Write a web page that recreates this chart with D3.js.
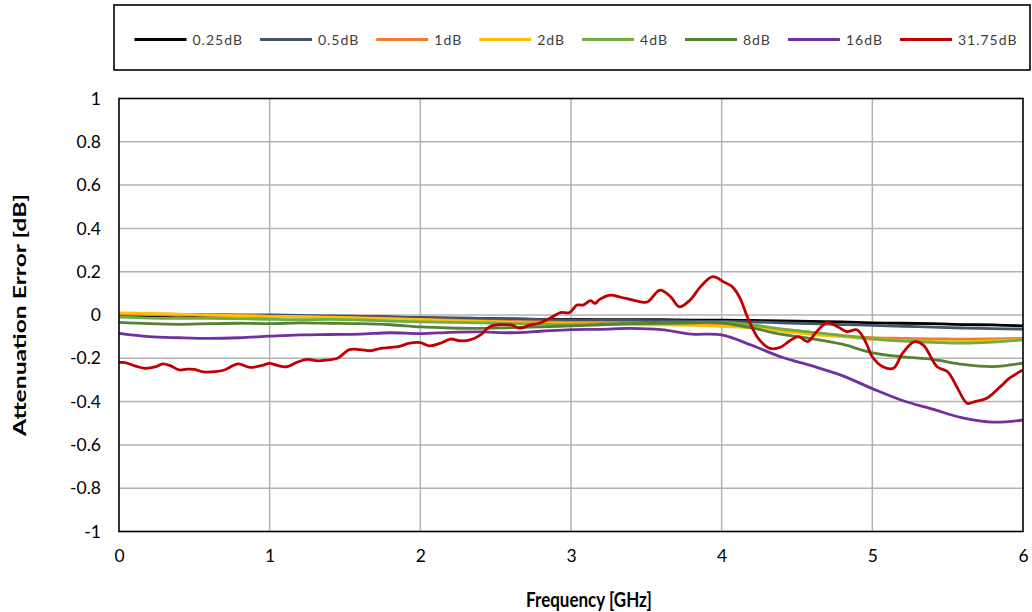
<!DOCTYPE html>
<html>
<head>
<meta charset="utf-8">
<script src="https://cdn.jsdelivr.net/npm/d3@7"></script>
<style>
  body { margin: 0; background: #fff; }
  svg { display: block; font-family: Lato, "Open Sans", sans-serif; }
</style>
</head>
<body>
<div id="chart"></div>
<script>
// series names and colours, in legend order
var seriesNames = ["0.25dB", "0.5dB", "1dB", "2dB", "4dB", "8dB", "16dB", "31.75dB"];
var seriesColors = ["#000000", "#44546a", "#ed7d31", "#ffc000", "#70ad47", "#548235", "#7030a0", "#c00000"];

// frequency grid (GHz) shared by the smooth series
var freqGrid = [0, 0.2, 0.4, 0.6, 0.8, 1.0, 1.2, 1.4, 1.6, 1.8, 2.0, 2.2, 2.4, 2.6, 2.8, 3.0,
  3.2, 3.4, 3.6, 3.8, 4.0, 4.2, 4.4, 4.6, 4.8, 5.0, 5.2, 5.4, 5.6, 5.8, 6.0];

var err025 = [0.0, -0.003, -0.002, -0.004, -0.003, -0.005, -0.006, -0.008, -0.008, -0.01, -0.012,
  -0.014, -0.016, -0.018, -0.02, -0.02, -0.021, -0.022, -0.022, -0.024, -0.024, -0.025, -0.027,
  -0.03, -0.032, -0.036, -0.038, -0.04, -0.044, -0.046, -0.05];
var err05 = [0.005, 0.004, 0.003, 0.002, 0.001, 0.0, -0.002, -0.004, -0.006, -0.009, -0.012,
  -0.015, -0.016, -0.018, -0.021, -0.023, -0.024, -0.025, -0.026, -0.028, -0.03, -0.032, -0.036,
  -0.04, -0.044, -0.048, -0.052, -0.056, -0.06, -0.063, -0.065];
var err1 = [0.004, 0.002, 0.0, -0.002, -0.004, -0.006, -0.008, -0.01, -0.013, -0.016, -0.02,
  -0.024, -0.027, -0.03, -0.032, -0.034, -0.036, -0.036, -0.038, -0.04, -0.042, -0.05, -0.065,
  -0.08, -0.095, -0.105, -0.108, -0.11, -0.112, -0.11, -0.108];
var err2 = [0.01, 0.007, 0.004, 0.0, -0.003, -0.006, -0.008, -0.011, -0.014, -0.018, -0.022,
  -0.026, -0.03, -0.034, -0.038, -0.04, -0.042, -0.044, -0.046, -0.048, -0.052, -0.06, -0.075,
  -0.09, -0.1, -0.112, -0.118, -0.122, -0.124, -0.12, -0.113];
var err4 = [-0.01, -0.014, -0.016, -0.015, -0.017, -0.02, -0.022, -0.02, -0.023, -0.028, -0.032,
  -0.034, -0.036, -0.04, -0.042, -0.045, -0.042, -0.04, -0.038, -0.036, -0.034, -0.045, -0.065,
  -0.08, -0.095, -0.11, -0.12, -0.126, -0.13, -0.125, -0.115];
var err8 = [-0.034, -0.04, -0.043, -0.04, -0.038, -0.04, -0.036, -0.038, -0.04, -0.045, -0.055,
  -0.06, -0.062, -0.058, -0.055, -0.05, -0.045, -0.04, -0.038, -0.036, -0.036, -0.06, -0.09,
  -0.11, -0.135, -0.175, -0.193, -0.205, -0.228, -0.238, -0.222];
var err16 = [-0.085, -0.1, -0.105, -0.108, -0.105, -0.098, -0.092, -0.09, -0.088, -0.082, -0.086,
  -0.08, -0.078, -0.082, -0.075, -0.068, -0.066, -0.062, -0.068, -0.088, -0.092, -0.14, -0.195,
  -0.235, -0.28, -0.34, -0.395, -0.435, -0.475, -0.495, -0.485];

// 31.75dB is much wigglier, so it has its own frequency points
var freq3175 = [0, 0.04, 0.11, 0.17, 0.24, 0.29, 0.34, 0.40, 0.45, 0.50, 0.56, 0.64, 0.70,
  0.79, 0.87, 0.95, 1.00, 1.05, 1.11, 1.19, 1.25, 1.32, 1.39, 1.45, 1.53, 1.60, 1.67, 1.73,
  1.80, 1.86, 1.93, 2.00, 2.06, 2.13, 2.20, 2.26, 2.33, 2.40, 2.46, 2.60, 2.66, 2.73, 2.79,
  2.86, 2.93, 2.99, 3.04, 3.08, 3.13, 3.16, 3.19, 3.26, 3.33, 3.39, 3.46, 3.51, 3.59, 3.66,
  3.72, 3.79, 3.86, 3.94, 4.01, 4.07, 4.12, 4.17, 4.21, 4.25, 4.32, 4.39, 4.45, 4.51, 4.57,
  4.63, 4.70, 4.77, 4.83, 4.90, 4.96, 5.00, 5.07, 5.14, 5.20, 5.28, 5.34, 5.43, 5.50, 5.56,
  5.63, 5.68, 5.76, 5.85, 5.91, 6.00];
var err3175 = [-0.219, -0.22, -0.236, -0.246, -0.24, -0.226, -0.234, -0.254, -0.25, -0.251,
  -0.263, -0.262, -0.254, -0.226, -0.242, -0.233, -0.223, -0.233, -0.239, -0.216, -0.205, -0.212,
  -0.207, -0.2, -0.16, -0.16, -0.165, -0.155, -0.15, -0.145, -0.13, -0.128, -0.143, -0.131,
  -0.111, -0.119, -0.115, -0.092, -0.054, -0.046, -0.061, -0.046, -0.038, -0.015, 0.011, 0.011,
  0.046, 0.046, 0.066, 0.054, 0.072, 0.092, 0.082, 0.072, 0.061, 0.061, 0.115, 0.085, 0.038,
  0.069, 0.131, 0.177, 0.154, 0.131, 0.08, -0.008, -0.069, -0.115, -0.154, -0.149, -0.12, -0.1,
  -0.123, -0.077, -0.035, -0.054, -0.077, -0.069, -0.131, -0.193, -0.239, -0.246, -0.177, -0.123,
  -0.14, -0.239, -0.262, -0.331, -0.408, -0.4, -0.385, -0.331, -0.292, -0.254];

var xTicks = [0, 1, 2, 3, 4, 5, 6];
var yTicks = [-1, -0.8, -0.6, -0.4, -0.2, 0, 0.2, 0.4, 0.6, 0.8, 1];

var seriesX = [freqGrid, freqGrid, freqGrid, freqGrid, freqGrid, freqGrid, freqGrid, freq3175];
var seriesY = [err025, err05, err1, err2, err4, err8, err16, err3175];

var W = 1032, H = 612;
var margin = {top: 98.5, right: 9, bottom: 80.5, left: 119};
var width = W - margin.left - margin.right,
    height = H - margin.top - margin.bottom;

var svg = d3.select("#chart").append("svg")
    .attr("width", W)
    .attr("height", H);

var g = svg.append("g")
    .attr("transform", "translate(" + margin.left + "," + margin.top + ")");

var x = d3.scaleLinear().domain([0, 6]).range([0, width]);
var y = d3.scaleLinear().domain([-1, 1]).range([height, 0]);

// grid lines
g.append("g").selectAll("line.h")
    .data(yTicks.filter(function (d) { return d > -1 && d < 1; }))
  .enter().append("line")
    .attr("x1", 0).attr("x2", width)
    .attr("y1", function (d) { return y(d); })
    .attr("y2", function (d) { return y(d); })
    .attr("stroke", "#b3b3b3").attr("stroke-width", 1.5);

g.append("g").selectAll("line.v")
    .data(xTicks.filter(function (d) { return d > 0 && d < 6; }))
  .enter().append("line")
    .attr("y1", 0).attr("y2", height)
    .attr("x1", function (d) { return x(d); })
    .attr("x2", function (d) { return x(d); })
    .attr("stroke", "#b3b3b3").attr("stroke-width", 1.5);

// axes (labels only, no tick marks)
var xAxis = g.append("g")
    .attr("transform", "translate(0," + height + ")")
    .call(d3.axisBottom(x).tickValues(xTicks).tickSize(0).tickPadding(18).tickFormat(d3.format("d")));
var yAxis = g.append("g")
    .call(d3.axisLeft(y).tickValues(yTicks).tickSize(0).tickPadding(18)
      .tickFormat(function (d) { return String(+d.toFixed(1)); }));

[xAxis, yAxis].forEach(function (a) {
  a.select(".domain").remove();
  a.selectAll("text")
      .attr("fill", "#000")
      .style("font-size", "17.5px")
      .style("font-family", "Lato, sans-serif");
});

// data lines
var line = d3.line()
    .x(function (d) { return x(d[0]); })
    .y(function (d) { return y(d[1]); })
    .curve(d3.curveCatmullRom.alpha(0.5));

svg.append("defs").append("clipPath").attr("id", "plotclip")
  .append("rect").attr("width", width).attr("height", height);

var lines = g.append("g").attr("clip-path", "url(#plotclip)");
seriesNames.forEach(function (name, i) {
  var pts = seriesX[i].map(function (f, j) { return [f, seriesY[i][j]]; });
  lines.append("path")
      .datum(pts)
      .attr("d", line)
      .attr("fill", "none")
      .attr("stroke", seriesColors[i])
      .attr("stroke-width", 2.8)
      .attr("stroke-linejoin", "round");
});

// plot frame
g.append("rect")
    .attr("width", width).attr("height", height)
    .attr("fill", "none")
    .attr("stroke", "#000").attr("stroke-width", 1.6);

// axis titles (the reference text looks stretched vertically)
svg.append("text")
    .attr("transform", "translate(589,607) scale(1,1.2)")
    .attr("text-anchor", "middle")
    .style("font-size", "17px").style("font-weight", "bold")
    .text("Frequency [GHz]");

svg.append("text")
    .attr("transform", "translate(26," + (margin.top + height / 2) + ") scale(1,1.45) rotate(-90)")
    .attr("text-anchor", "middle")
    .style("font-size", "17px").style("font-weight", "bold")
    .text("Attenuation Error [dB]");

// legend
var legendBox = {x: 114, y: 5, w: 916, h: 65};
svg.append("rect")
    .attr("x", legendBox.x).attr("y", legendBox.y)
    .attr("width", legendBox.w).attr("height", legendBox.h)
    .attr("fill", "none").attr("stroke", "#000").attr("stroke-width", 1.6);

var legend = svg.append("g");
var lx = 0, swatch = 52, gapA = 6, gapB = 17;
seriesNames.forEach(function (name, i) {
  var item = legend.append("g").attr("transform", "translate(" + lx + ",0)");
  item.append("line")
      .attr("x1", 0).attr("x2", swatch)
      .attr("y1", 0).attr("y2", 0)
      .attr("stroke", seriesColors[i]).attr("stroke-width", 3);
  var t = item.append("text")
      .attr("x", swatch + gapA).attr("y", 5)
      .attr("fill", "#404040")
      .style("font-size", "14px").style("letter-spacing", "1px")
      .text(name);
  lx += swatch + gapA + t.node().getComputedTextLength() + gapB;
});
lx -= gapB;
legend.attr("transform", "translate(" + (legendBox.x + (legendBox.w - lx) / 2 + 4) + "," + (legendBox.y + legendBox.h / 2 + 2) + ")");
</script>
</body>
</html>
